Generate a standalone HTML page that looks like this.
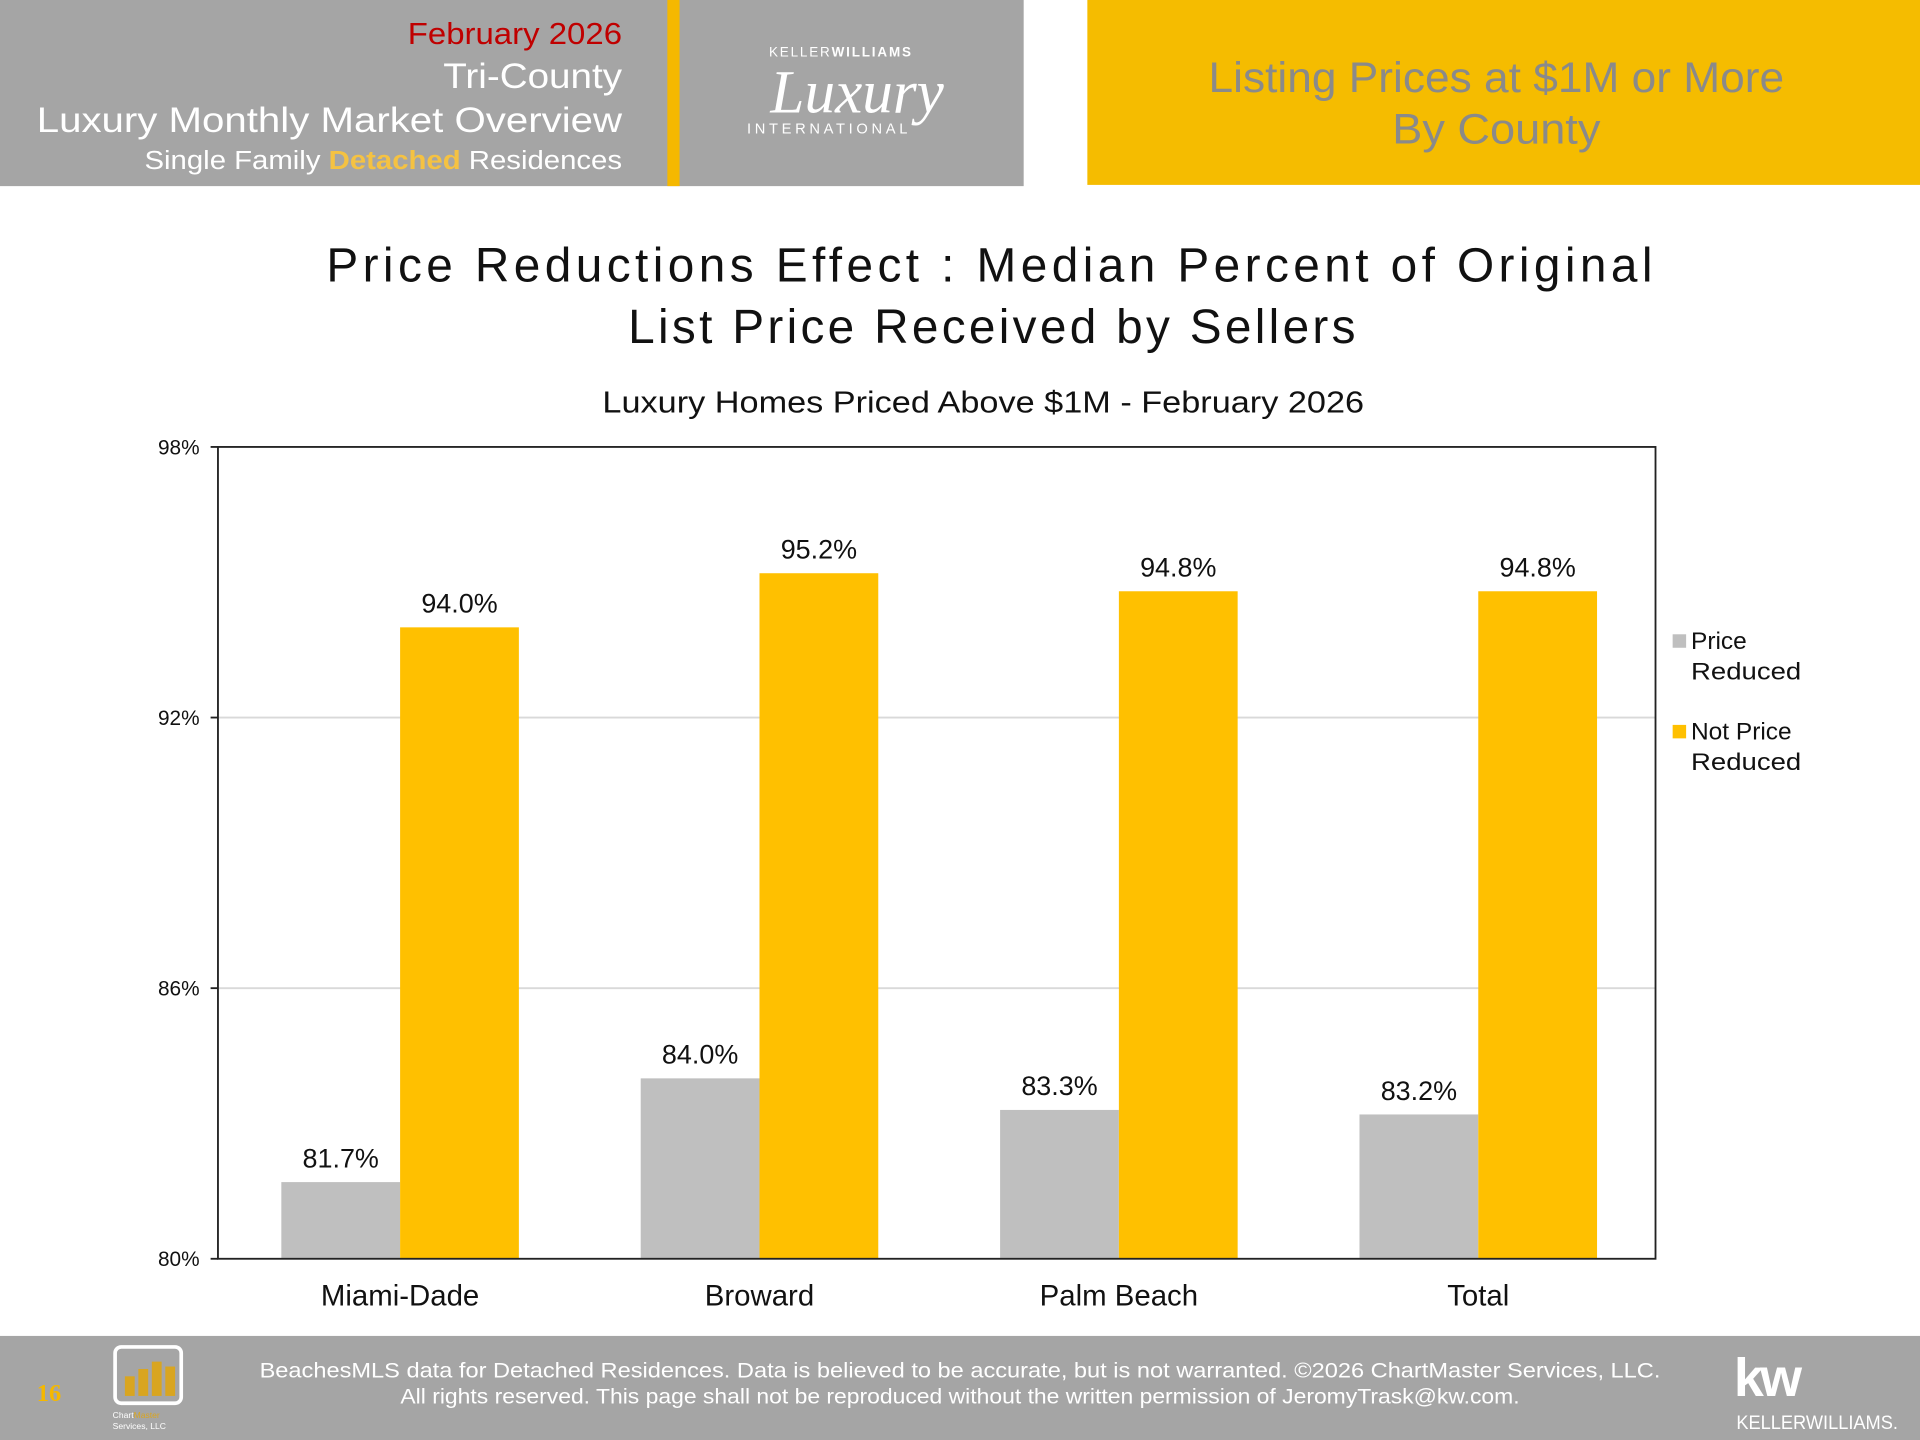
<!DOCTYPE html>
<html><head><meta charset="utf-8"><style>
html,body{margin:0;padding:0;background:#fff}
svg{display:block;font-family:"Liberation Sans","DejaVu Sans",sans-serif}
</style></head><body>
<svg id="chart" width="1920" height="1440" viewBox="0 0 1568 1176" xmlns="http://www.w3.org/2000/svg">
<g>
<rect x="0" y="0" width="836" height="152" fill="#a5a5a5"/>
<rect x="545" y="0" width="10" height="152" fill="#f5b800"/>
<text x="508" y="36" text-anchor="end" font-size="25" fill="#c00000" textLength="175" lengthAdjust="spacingAndGlyphs">February 2026</text>
<text x="508" y="72" text-anchor="end" font-size="29" fill="#fff" textLength="146" lengthAdjust="spacingAndGlyphs">Tri-County</text>
<text x="508" y="108" text-anchor="end" font-size="29" fill="#fff" textLength="478" lengthAdjust="spacingAndGlyphs">Luxury Monthly Market Overview</text>
<text x="508" y="138" text-anchor="end" font-size="21" fill="#fff" textLength="390" lengthAdjust="spacingAndGlyphs">Single Family <tspan fill="#f5c242" font-weight="bold">Detached</tspan> Residences</text>
<g>
<text x="628" y="46" font-size="11" fill="#fff" letter-spacing="1.5">KELLER<tspan font-weight="bold">WILLIAMS</tspan></text>
<text x="700" y="92" text-anchor="middle" font-size="50" font-style="italic" fill="#fff" font-family="Liberation Serif, serif">Luxury</text>
<text x="610" y="109" font-size="12" fill="#fff" letter-spacing="3">INTERNATIONAL</text>
</g>
<rect x="888" y="0" width="680" height="151" fill="#f5bc00"/>
<text x="1222" y="75" text-anchor="middle" font-size="35" fill="#8a8a8a" textLength="470" lengthAdjust="spacingAndGlyphs">Listing Prices at $1M or More</text>
<text x="1222" y="117" text-anchor="middle" font-size="35" fill="#8a8a8a" textLength="170" lengthAdjust="spacingAndGlyphs">By County</text>
</g>
<text x="808" y="230" text-anchor="middle" font-size="39" fill="#111" textLength="1083" lengthAdjust="spacing">Price Reductions Effect : Median Percent of Original</text>
<text x="810" y="280" text-anchor="middle" font-size="39" fill="#111" textLength="594" lengthAdjust="spacing">List Price Received by Sellers</text>
<text x="803" y="337" text-anchor="middle" font-size="25" fill="#111" textLength="622" lengthAdjust="spacingAndGlyphs">Luxury Homes Priced Above $1M - February 2026</text>
<g id="grid"></g>
<g id="bars"></g>
<rect x="178" y="365" width="1174" height="663" fill="none" stroke="#222" stroke-width="1.5"/>
<g id="axes"></g>
<g>
<g>
<rect x="1366" y="518" width="11" height="11" fill="#bfbfbf"/>
<text x="1381" y="530" font-size="20" fill="#111">Price</text>
<text x="1381" y="555" font-size="20" fill="#111" textLength="90" lengthAdjust="spacingAndGlyphs">Reduced</text>
</g>
<g>
<rect x="1366" y="592" width="11" height="11" fill="#ffc000"/>
<text x="1381" y="604" font-size="20" fill="#111">Not Price</text>
<text x="1381" y="629" font-size="20" fill="#111" textLength="90" lengthAdjust="spacingAndGlyphs">Reduced</text>
</g>
</g>
<g>
<rect x="0" y="1091" width="1568" height="85" fill="#a5a5a5"/>
<text x="30" y="1144" font-size="20" fill="#f5b800" font-weight="bold" font-family="Liberation Serif, serif">16</text>
<g>
<rect x="94" y="1100" width="54" height="46" rx="5" fill="none" stroke="#fff" stroke-width="3"/>
<rect x="102" y="1124" width="8" height="16" fill="#d9a520"/><rect x="113" y="1118" width="8" height="22" fill="#d9a520"/><rect x="124" y="1112" width="8" height="28" fill="#d9a520"/><rect x="135" y="1116" width="8" height="24" fill="#d9a520"/>
<text x="92" y="1158" font-size="7" fill="#fff">Chart<tspan fill="#d9a520">Master</tspan></text>
<text x="92" y="1167" font-size="7" fill="#fff">Services, LLC</text>
</g>
<text x="784" y="1125" text-anchor="middle" font-size="17.5" fill="#fff" textLength="1144" lengthAdjust="spacingAndGlyphs">BeachesMLS data for Detached Residences.  Data is believed to be accurate, but is not warranted.   ©2026  ChartMaster Services, LLC.</text>
<text x="784" y="1146" text-anchor="middle" font-size="17.5" fill="#fff" textLength="914" lengthAdjust="spacingAndGlyphs">All rights reserved. This page shall not be reproduced without the written permission of JeromyTrask@kw.com.</text>
<g>
<text x="1416" y="1140" font-size="44" fill="#fff" font-weight="bold" letter-spacing="-3">kw</text>
<text x="1418" y="1167" font-size="16" fill="#fff" textLength="132" lengthAdjust="spacingAndGlyphs">KELLERWILLIAMS.</text>
</g>
</g>
</svg>
<script>
const categories = ["Miami-Dade", "Broward", "Palm Beach", "Total"];
const priceReduced = [81.7, 84.0, 83.3, 83.2];
const notPriceReduced = [94.0, 95.2, 94.8, 94.8];
const yTicks = [80, 86, 92, 98];
const yTickLabels = ["80%", "86%", "92%", "98%"];

const NS = "http://www.w3.org/2000/svg";
const plotL = 178, plotR = 1352, plotT = 365, plotB = 1028, yMin = 80, yMax = 98;
function yScale(v){ return plotB - (v - yMin) / (yMax - yMin) * (plotB - plotT); }
const band = (plotR - plotL) / categories.length;
function xCenter(i){ return plotL + band * (i + 0.5) + 2; }
const barW = 97;
function mk(tag, attrs, parent){ const e = document.createElementNS(NS, tag); for (const k in attrs) e.setAttribute(k, attrs[k]); parent.appendChild(e); return e; }

const grid = document.getElementById('grid'), bars = document.getElementById('bars'), axes = document.getElementById('axes');
yTicks.forEach((t, i) => {
  const y = yScale(t);
  if (t !== yMin && t !== yMax) {
    const g = mk('line', {x1: plotL, x2: plotR, y1: y, y2: y, stroke: '#d9d9d9', 'stroke-width': 1.5}, grid);
    
    
  }
  const tk = mk('line', {x1: plotL - 6, x2: plotL, y1: y, y2: y, stroke: '#222', 'stroke-width': 1.5}, axes);
  
  
  const lb = mk('text', {x: plotL - 15, y: y + 6, 'text-anchor': 'end', 'font-size': 17, fill: '#111'}, axes);
  lb.textContent = yTickLabels[i];
  
  
});
categories.forEach((c, i) => {
  const cx = xCenter(i);
  [[priceReduced[i], '#bfbfbf', cx - barW, 'price-reduced'], [notPriceReduced[i], '#ffc000', cx, 'not-price-reduced']].forEach(([v, col, x, nm]) => {
    const y = yScale(v);
    const r = mk('rect', {x: x, y: y, width: barW, height: plotB - y, fill: col}, bars);
    
    
    const t = mk('text', {x: x + barW / 2, y: y - 12, 'text-anchor': 'middle', 'font-size': 22, fill: '#111'}, bars);
    t.textContent = v.toFixed(1) + '%';
    
    
  });
  const cl = mk('text', {x: cx, y: 1066, 'text-anchor': 'middle', 'font-size': 24, fill: '#111'}, axes);
  cl.textContent = c;
  
  
});
</script>
</body></html>
